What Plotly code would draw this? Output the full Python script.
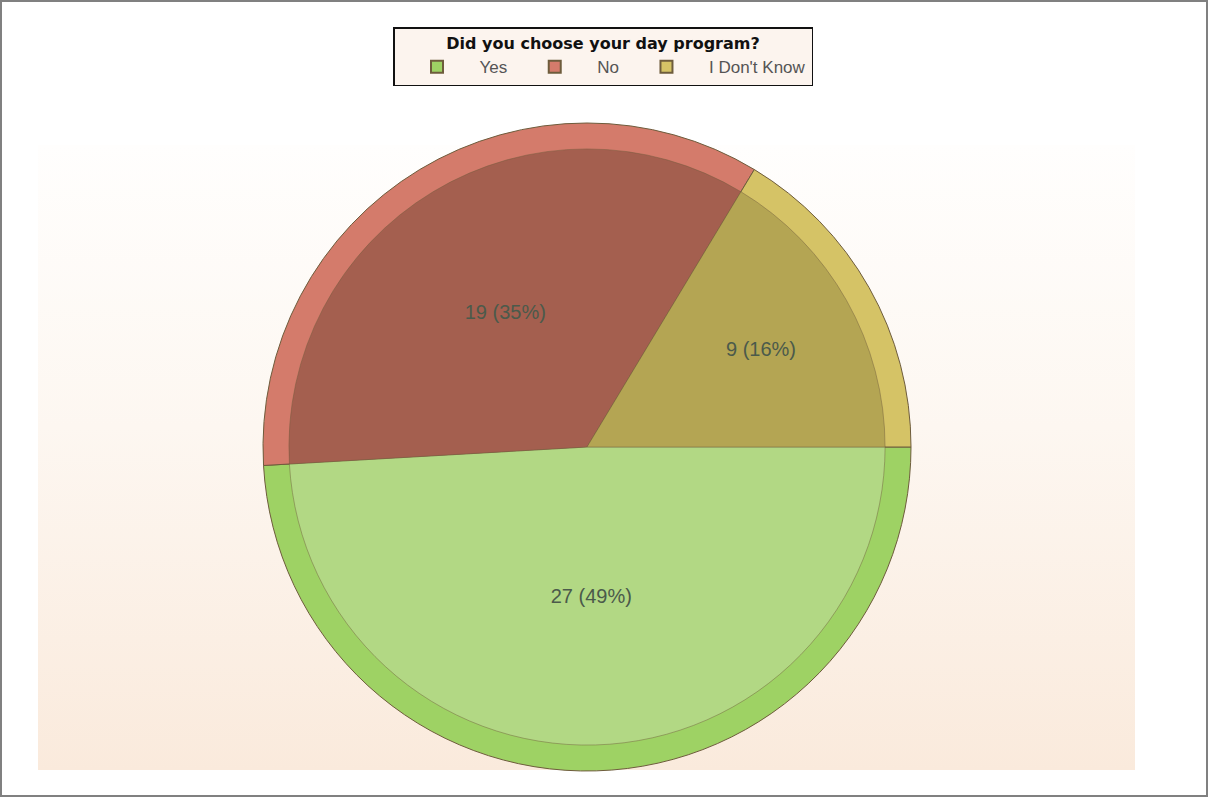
import plotly.graph_objects as go

labels = ["Yes", "No", "I Don't Know"]
values = [27, 19, 9]
rim_colors = ["#9ed264", "#d47b6b", "#d5c366"]
inner_colors = ["#b2d884", "#a45f4f", "#b4a553"]
legend_title = "Did you choose your day program?"

W, H = 1208, 797
cx, cy, r = 587, 447, 324
r_in = r * 0.92

def dom(rad):
    return dict(x=[(cx - rad) / W, (cx + rad) / W],
                y=[(H - cy - rad) / H, (H - cy + rad) / H])

fig = go.Figure()

# background gradient panel (decoration)
fig.add_trace(go.Scatter(
    x=[38, 1135, 1135, 38, 38], y=[145, 145, 770, 770, 145],
    mode="lines", line=dict(width=0), fill="toself",
    fillgradient=dict(type="vertical",
                      colorscale=[[0, "#faeadc"], [0.55, "#fdf7f1"], [1, "#fffefd"]]),
    hoverinfo="skip", showlegend=False))

fig.add_trace(go.Pie(
    labels=labels, values=values, sort=False, direction="clockwise", rotation=90,
    marker=dict(colors=rim_colors, line=dict(color="#6e5c3c", width=1)),
    textinfo="none", hoverinfo="skip", domain=dom(r), showlegend=True))

fig.add_trace(go.Pie(
    labels=labels, values=values, sort=False, direction="clockwise", rotation=90,
    marker=dict(colors=inner_colors, line=dict(color="rgba(110,92,60,0.45)", width=1)),
    texttemplate="%{value} (%{percent:.0%})", textposition="inside",
    insidetextorientation="horizontal",
    textfont=dict(family="Liberation Sans, Arial", size=20, color="#4b5a4b"),
    hoverinfo="skip", domain=dom(r_in), showlegend=False))

fig.update_layout(
    width=W, height=H,
    margin=dict(l=0, r=0, t=0, b=0),
    paper_bgcolor="white", plot_bgcolor="rgba(0,0,0,0)",
    xaxis=dict(range=[0, W], visible=False, domain=[0, 1], fixedrange=True),
    yaxis=dict(range=[H, 0], visible=False, domain=[0, 1], fixedrange=True),
    legend=dict(
        orientation="h", x=603 / W, xanchor="center", y=1 - 27 / H, yanchor="top",
        bgcolor="#fcf4ee", bordercolor="#111111", borderwidth=1.5,
        title=dict(text="<b>" + legend_title + "</b>", side="top center",
                   font=dict(family="DejaVu Sans", size=16, color="#111111")),
        font=dict(family="Liberation Sans, Arial", size=17, color="#555555"),
        itemwidth=75, itemsizing="constant",
    ),
    shapes=[dict(type="rect", xref="paper", yref="paper", x0=0, y0=0, x1=1, y1=1,
                 line=dict(color="#808080", width=4), layer="above")],
)

fig.write_html("out.html", config={"displayModeBar": False},
               post_script="document.body.style.margin='0';document.body.style.overflow='hidden';")
